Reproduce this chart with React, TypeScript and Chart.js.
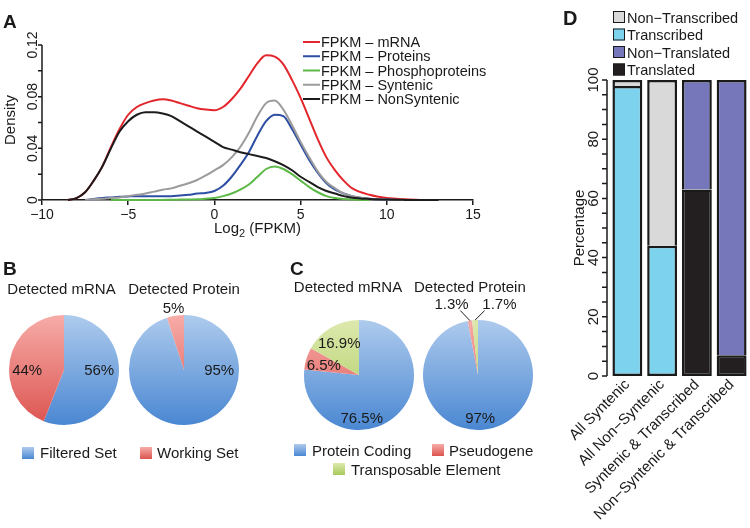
import React, { useEffect, useRef } from 'react';
import { Chart, registerables } from 'chart.js';
Chart.register(...registerables);

const FONT = '"Liberation Sans", Arial, Helvetica, sans-serif';
const INK = '#1a1a1a';

// ---------- Panel A: density of log2(FPKM) ----------
const densityX = [-8.5, -8, -7.5, -7, -6.5, -6, -5.5, -5, -4.5, -4, -3.5, -3, -2.5, -2, -1.5, -1, -0.5, 0, 0.5, 1, 1.5, 2, 2.5, 3, 3.5, 4, 4.5, 5, 5.5, 6, 6.5, 7, 7.5, 8, 9, 10, 11, 12, 13];
const fpkmMRNA = [0, 0.0015, 0.006, 0.015, 0.026, 0.041, 0.055, 0.066, 0.072, 0.075, 0.077, 0.078, 0.077, 0.075, 0.073, 0.071, 0.070, 0.0695, 0.072, 0.078, 0.086, 0.096, 0.106, 0.112, 0.111, 0.105, 0.093, 0.079, 0.063, 0.047, 0.033, 0.023, 0.015, 0.009, 0.004, 0.0015, 0.0005, 0, null];
const fpkmProteins = [null, null, 0, 0.0008, 0.0015, 0.002, 0.0025, 0.0028, 0.003, 0.003, 0.003, 0.003, 0.003, 0.0035, 0.004, 0.005, 0.0055, 0.007, 0.011, 0.018, 0.027, 0.037, 0.050, 0.061, 0.066, 0.065, 0.055, 0.043, 0.031, 0.021, 0.013, 0.008, 0.005, 0.003, 0.001, 0.0003, 0, null, null];
const fpkmPhospho = [null, null, null, null, null, 0, 0, 0, 0, 0, 0, 0, 0.0002, 0.0003, 0.0004, 0.0005, 0.001, 0.0015, 0.003, 0.005, 0.008, 0.012, 0.018, 0.024, 0.026, 0.024, 0.020, 0.015, 0.010, 0.006, 0.003, 0.0015, 0.0007, 0.0003, 0, null, null, null, null];
const fpkmSyntenic = [null, null, 0, 0.0005, 0.001, 0.0015, 0.002, 0.003, 0.004, 0.005, 0.0065, 0.008, 0.009, 0.011, 0.013, 0.0155, 0.019, 0.023, 0.027, 0.033, 0.041, 0.052, 0.065, 0.075, 0.077, 0.070, 0.058, 0.045, 0.033, 0.022, 0.014, 0.009, 0.005, 0.003, 0.001, 0.0003, 0, null, null];
const fpkmNonSyntenic = [0, 0.0015, 0.006, 0.015, 0.026, 0.040, 0.053, 0.061, 0.066, 0.068, 0.068, 0.067, 0.065, 0.061, 0.057, 0.053, 0.049, 0.045, 0.041, 0.039, 0.037, 0.0355, 0.034, 0.0325, 0.030, 0.027, 0.023, 0.018, 0.014, 0.010, 0.007, 0.005, 0.003, 0.0018, 0.0008, 0.0003, 0.0001, 0, 0];
const densityNames = ['FPKM – mRNA', 'FPKM – Proteins', 'FPKM – Phosphoproteins', 'FPKM – Syntenic', 'FPKM – NonSyntenic'];
const densityColors = ['#e3262b', '#2d4ea2', '#5cb947', '#9b9b9b', '#1c1c1c'];
const xTicksA = [-10, -5, 0, 5, 10, 15];
const yTicksA = [0, 0.04, 0.08, 0.12];

// ---------- Panels B & C: pies ----------
const pieBLabels = ['Filtered Set', 'Working Set'];
const pieBmRNA = [56, 44];
const pieBProtein = [95, 5];
const pieCLabels = ['Protein Coding', 'Pseudogene', 'Transposable Element'];
const pieCmRNA = [76.5, 6.5, 16.9];
const pieCProtein = [97, 1.3, 1.7];

// ---------- Panel D: stacked bars ----------
const barCategories = ['All Syntenic', 'All Non−Syntenic', 'Syntenic & Transcribed', 'Non−Syntenic & Transcribed'];
const transcribed = [98, 44, null, null];
const nonTranscribed = [2, 56, null, null];
const translated = [null, null, 63, 7];
const nonTranslated = [null, null, 37, 93];
const yTicksD = [0, 20, 40, 60, 80, 100];

// ---------- styles ----------
const GRAD = {
  blue: ['#aecbed', '#4a87d2'],
  red: ['#f7aca8', '#dc5450'],
  green: ['#dde9ad', '#a8c95b'],
};

function gradFill(c: any, pair: string[]) {
  const chart = c.chart;
  const a = chart.chartArea;
  if (!a) return pair[1];
  const g = chart.ctx.createLinearGradient(0, a.top, 0, a.bottom);
  g.addColorStop(0, pair[0]);
  g.addColorStop(1, pair[1]);
  return g;
}

function drawRAxisY(chart: any, axisX: number, majors: number[], minorStep: number, fmt: (v: number) => string, fontSize: number, labelGap: number, tickLen: number) {
  const ctx = chart.ctx;
  const s = chart.scales.y;
  const min = majors[0];
  const max = majors[majors.length - 1];
  ctx.save();
  ctx.strokeStyle = INK;
  ctx.lineWidth = 1.5;
  ctx.beginPath();
  ctx.moveTo(axisX, s.getPixelForValue(min));
  ctx.lineTo(axisX, s.getPixelForValue(max));
  ctx.stroke();
  const n = Math.round((max - min) / minorStep);
  ctx.beginPath();
  for (let i = 0; i <= n; i++) {
    const py = s.getPixelForValue(min + i * minorStep);
    ctx.moveTo(axisX - tickLen, py);
    ctx.lineTo(axisX, py);
  }
  ctx.stroke();
  ctx.fillStyle = INK;
  ctx.font = `${fontSize}px ${FONT}`;
  ctx.textAlign = 'center';
  ctx.textBaseline = 'alphabetic';
  majors.forEach((v) => {
    const py = s.getPixelForValue(v);
    ctx.save();
    ctx.translate(axisX - labelGap, py);
    ctx.rotate(-Math.PI / 2);
    ctx.fillText(fmt(v), 0, 0);
    ctx.restore();
  });
  ctx.restore();
}

function DensityChart() {
  const ref = useRef<HTMLCanvasElement>(null);
  useEffect(() => {
    const series = [fpkmMRNA, fpkmProteins, fpkmPhospho, fpkmSyntenic, fpkmNonSyntenic];
    const datasets = series.map((arr, k) => ({
      label: densityNames[k],
      data: densityX.map((x, i) => ({ x, y: arr[i] })).filter((p) => p.y !== null),
      borderColor: densityColors[k],
      backgroundColor: densityColors[k],
      borderWidth: 2,
      pointRadius: 0,
      cubicInterpolationMode: 'monotone' as const,
      clip: false as any,
      order: series.length - k,
    }));
    const plugin = {
      id: 'axesA',
      afterDraw(chart: any) {
        const ctx = chart.ctx;
        const a = chart.chartArea;
        drawRAxisY(chart, a.left, yTicksA, 0.02, (v) => (v === 0 ? '0' : v.toFixed(2)), 14, 5, 4);
        ctx.save();
        ctx.fillStyle = INK;
        ctx.textBaseline = 'alphabetic';
        ctx.textAlign = 'left';
        const big = `15px ${FONT}`;
        const small = `11px ${FONT}`;
        ctx.font = big;
        const w1 = ctx.measureText('Log').width;
        const w3 = ctx.measureText(' (FPKM)').width;
        ctx.font = small;
        const w2 = ctx.measureText('2').width;
        let x = (a.left + a.right) / 2 - (w1 + w2 + w3) / 2;
        const y = 233;
        ctx.font = big;
        ctx.fillText('Log', x, y);
        x += w1;
        ctx.font = small;
        ctx.fillText('2', x, y + 4);
        x += w2;
        ctx.font = big;
        ctx.fillText(' (FPKM)', x, y);
        ctx.save();
        ctx.translate(15, 120);
        ctx.rotate(-Math.PI / 2);
        ctx.textAlign = 'center';
        ctx.fillText('Density', 0, 0);
        ctx.restore();
        // legend
        ctx.font = `14.5px ${FONT}`;
        chart.data.datasets.forEach((ds: any, i: number) => {
          const ry = 42 + i * 14.25;
          ctx.strokeStyle = ds.borderColor;
          ctx.lineWidth = 2;
          ctx.beginPath();
          ctx.moveTo(303, ry);
          ctx.lineTo(320, ry);
          ctx.stroke();
          ctx.fillStyle = INK;
          ctx.fillText(ds.label, 321, ry + 5);
        });
        ctx.restore();
      },
    };
    const chart = new Chart(ref.current as HTMLCanvasElement, {
      type: 'line',
      data: { datasets },
      options: {
        responsive: false,
        animation: false,
        layout: { padding: { left: 42, right: 32, top: 45, bottom: 0 } },
        plugins: { legend: { display: false }, tooltip: { enabled: false } },
        scales: {
          x: {
            type: 'linear',
            min: xTicksA[0],
            max: xTicksA[xTicksA.length - 1],
            afterFit: (s: any) => { s.height = 50; },
            afterBuildTicks: (s: any) => { s.ticks = xTicksA.map((v) => ({ value: v })); },
            border: { display: true, color: INK, width: 1.5 },
            grid: { drawOnChartArea: false, drawTicks: true, tickLength: 5, color: INK, lineWidth: 1.5 },
            ticks: {
              color: INK,
              font: { family: FONT, size: 14 },
              padding: 2,
              callback: (v: any) => (v < 0 ? '\u2212' + Math.abs(v) : String(v)),
            },
          },
          y: { type: 'linear', min: yTicksA[0], max: yTicksA[yTicksA.length - 1], display: false },
        },
      } as any,
      plugins: [plugin],
    });
    return () => chart.destroy();
  }, []);
  return <canvas ref={ref} width={505} height={250} style={{ position: 'absolute', left: 0, top: 0, width: 505, height: 250 }} />;
}

function PieChart({ cx, cy, r, values, names, colors, labelPos, leaders }: any) {
  const ref = useRef<HTMLCanvasElement>(null);
  const pad = 45;
  const size = 2 * r + 2 * pad;
  useEffect(() => {
    const plugin = {
      id: 'pieText',
      afterDatasetsDraw(chart: any) {
        const ctx = chart.ctx;
        const arcs = chart.getDatasetMeta(0).data;
        ctx.save();
        ctx.font = `15px ${FONT}`;
        ctx.fillStyle = INK;
        ctx.textAlign = 'center';
        ctx.textBaseline = 'middle';
        arcs.forEach((arc: any, i: number) => {
          const p = arc.getProps(['x', 'y', 'outerRadius', 'startAngle', 'endAngle'], true);
          const R = p.outerRadius;
          if (leaders && leaders[i]) {
            const mid = (p.startAngle + p.endAngle) / 2;
            ctx.strokeStyle = INK;
            ctx.lineWidth = 1;
            ctx.beginPath();
            ctx.moveTo(p.x + Math.cos(mid) * R, p.y + Math.sin(mid) * R);
            ctx.lineTo(p.x + leaders[i][0] * R, p.y + leaders[i][1] * R);
            ctx.stroke();
          }
          const lp = labelPos[i];
          ctx.fillText(`${values[i]}%`, p.x + lp[0] * R, p.y + lp[1] * R + 1);
        });
        ctx.restore();
      },
    };
    const chart = new Chart(ref.current as HTMLCanvasElement, {
      type: 'pie',
      data: {
        labels: names,
        datasets: [{
          data: values,
          backgroundColor: (c: any) => gradFill(c, colors[c.dataIndex] || colors[0]),
          borderWidth: 0,
        }],
      },
      options: {
        responsive: false,
        animation: false,
        layout: { padding: pad },
        plugins: { legend: { display: false }, tooltip: { enabled: false } },
      } as any,
      plugins: [plugin],
    });
    return () => chart.destroy();
  }, []);
  return <canvas ref={ref} width={size} height={size} style={{ position: 'absolute', left: cx - size / 2, top: cy - size / 2, width: size, height: size }} />;
}

function BarChart() {
  const ref = useRef<HTMLCanvasElement>(null);
  const LEFT = 555;
  useEffect(() => {
    const legendOrder = [1, 0, 3, 2];
    const plugin = {
      id: 'axesD',
      afterDraw(chart: any) {
        const ctx = chart.ctx;
        const a = chart.chartArea;
        drawRAxisY(chart, a.left - 3, yTicksD, 5, (v) => String(v), 15, 9, 5);
        ctx.save();
        ctx.fillStyle = INK;
        ctx.font = `15px ${FONT}`;
        ctx.textAlign = 'center';
        ctx.textBaseline = 'alphabetic';
        ctx.translate(584 - LEFT, (a.top + a.bottom) / 2);
        ctx.rotate(-Math.PI / 2);
        ctx.fillText('Percentage', 0, 0);
        ctx.restore();
        ctx.save();
        ctx.font = `14.5px ${FONT}`;
        ctx.textAlign = 'left';
        ctx.textBaseline = 'alphabetic';
        legendOrder.forEach((di, k) => {
          const ds = chart.data.datasets[di];
          const cy = 17 + k * 17.5;
          ctx.fillStyle = ds.backgroundColor;
          ctx.fillRect(613 - LEFT, cy - 6, 12, 12);
          ctx.strokeStyle = INK;
          ctx.lineWidth = 1;
          ctx.strokeRect(613.5 - LEFT, cy - 5.5, 11, 11);
          ctx.fillStyle = INK;
          ctx.fillText(ds.label, 627 - LEFT, cy + 5.5);
        });
        ctx.restore();
      },
    };
    const common = { borderColor: INK, borderWidth: 2.5, stack: 's' };
    const chart = new Chart(ref.current as HTMLCanvasElement, {
      type: 'bar',
      data: {
        labels: barCategories,
        datasets: [
          { label: 'Transcribed', data: transcribed, backgroundColor: '#7dd2ee', borderSkipped: false, ...common },
          { label: 'Non−Transcribed', data: nonTranscribed, backgroundColor: '#d9d9d9', borderSkipped: 'start', ...common },
          { label: 'Translated', data: translated, backgroundColor: '#231f20', borderSkipped: false, ...common },
          { label: 'Non−Translated', data: nonTranslated, backgroundColor: '#7676ba', borderSkipped: 'start', ...common },
        ],
      },
      options: {
        responsive: false,
        animation: false,
        layout: { padding: { left: 55, right: 1, top: 80, bottom: 0 } },
        datasets: { bar: { barPercentage: 0.86, categoryPercentage: 1 } },
        plugins: { legend: { display: false }, tooltip: { enabled: false } },
        scales: {
          x: {
            stacked: true,
            afterFit: (s: any) => { s.height = 152; },
            grid: { display: false, drawTicks: false },
            border: { display: false },
            ticks: { autoSkip: false, minRotation: 45, maxRotation: 45, color: INK, font: { family: FONT, size: 15 }, padding: 0 },
          },
          y: { stacked: true, min: 0, max: 100, display: false },
        },
      } as any,
      plugins: [plugin],
    });
    return () => chart.destroy();
  }, []);
  return <canvas ref={ref} width={195} height={528} style={{ position: 'absolute', left: LEFT, top: 0, width: 195, height: 528 }} />;
}

function Txt({ x, y, size = 15, align = 'left', bold = false, family = FONT, children }: any) {
  const tx = align === 'center' ? 'translateX(-50%)' : align === 'right' ? 'translateX(-100%)' : 'none';
  return (
    <div style={{ position: 'absolute', left: x, top: y - 0.8465 * size, fontFamily: family, fontSize: size, lineHeight: `${size}px`, fontWeight: bold ? 'bold' : 'normal', whiteSpace: 'nowrap', transform: tx, color: INK }}>
      {children}
    </div>
  );
}

function Swatch({ x, y, pair }: any) {
  return <div style={{ position: 'absolute', left: x, top: y, width: 12, height: 12, background: `linear-gradient(to bottom, ${pair[0]}, ${pair[1]})` }} />;
}

const LETTER = '"Liberation Sans Narrow", "Liberation Sans", Arial, sans-serif';

export default function App() {
  return (
    <div style={{ position: 'absolute', left: 0, top: 0, width: 750, height: 528, background: '#fff', overflow: 'hidden' }}>
      <DensityChart />
      <PieChart cx={64} cy={370} r={55} values={pieBmRNA} names={pieBLabels} colors={[GRAD.blue, GRAD.red]} labelPos={[[0.64, 0], [-0.67, 0]]} />
      <PieChart cx={184} cy={370} r={55} values={pieBProtein} names={pieBLabels} colors={[GRAD.blue, GRAD.red]} labelPos={[[0.64, 0], [-0.19, -1.135]]} />
      <PieChart cx={359} cy={375} r={55} values={pieCmRNA} names={pieCLabels} colors={[GRAD.blue, GRAD.red, GRAD.green]} labelPos={[[0.05, 0.78], [-0.64, -0.19], [-0.36, -0.59]]} />
      <PieChart cx={478} cy={375} r={55} values={pieCProtein} names={pieCLabels} colors={[GRAD.blue, GRAD.red, GRAD.green]} labelPos={[[0.04, 0.78], [-0.48, -1.3], [0.39, -1.3]]} leaders={[null, [-0.32, -1.17], [0.12, -1.17]]} />
      <BarChart />

      <Txt x={3} y={28} size={19} bold family={LETTER}>A</Txt>
      <Txt x={3} y={275} size={19} bold family={LETTER}>B</Txt>
      <Txt x={290} y={275} size={19} bold family={LETTER}>C</Txt>
      <Txt x={563} y={25} size={20} bold family={LETTER}>D</Txt>

      <Txt x={61.5} y={294} align="center">Detected mRNA</Txt>
      <Txt x={184} y={294} align="center">Detected Protein</Txt>
      <Txt x={348} y={292} align="center">Detected mRNA</Txt>
      <Txt x={414} y={292}>Detected Protein</Txt>

      <Swatch x={22} y={447} pair={GRAD.blue} />
      <Txt x={40} y={458}>{pieBLabels[0]}</Txt>
      <Swatch x={140} y={447} pair={GRAD.red} />
      <Txt x={157} y={458}>{pieBLabels[1]}</Txt>

      <Swatch x={294} y={444} pair={GRAD.blue} />
      <Txt x={312} y={456}>{pieCLabels[0]}</Txt>
      <Swatch x={432} y={444} pair={GRAD.red} />
      <Txt x={449} y={456}>{pieCLabels[1]}</Txt>
      <Swatch x={333} y={463} pair={GRAD.green} />
      <Txt x={351} y={475}>{pieCLabels[2]}</Txt>
    </div>
  );
}
